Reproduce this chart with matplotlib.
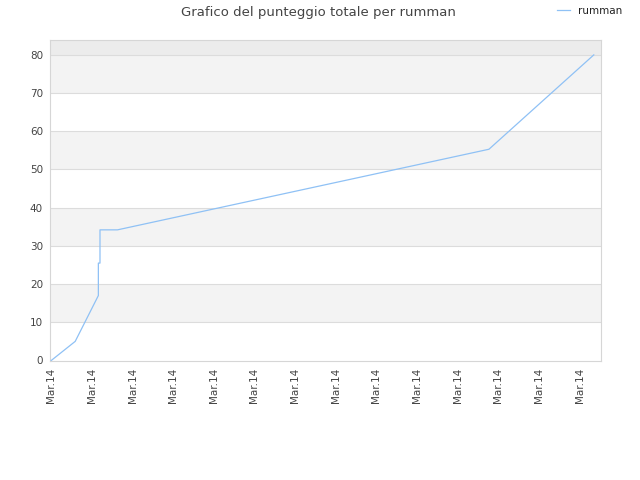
import matplotlib
matplotlib.use('Agg')
import matplotlib.pyplot as plt

# data (x in tick steps, all ticks labelled Mar.14)
x_vals = [0, 0.59, 1.16, 1.16, 1.20, 1.20, 1.63, 10.77, 13.35]
y_vals = [0, 5, 17, 25.5, 25.5, 34.2, 34.2, 55.3, 80]
tick_pos = list(range(14))
tick_labels = ['Mar.14'] * 14
y_ticks = [0, 10, 20, 30, 40, 50, 60, 70, 80]

fig = plt.figure(figsize=(6.4, 4.8), dpi=100)
ax = fig.add_axes([50/640, 1 - 360.5/480, 550.7/640, 320.5/480])

# alternating bands
for lo in [10, 30, 50, 70]:
    ax.axhspan(lo, lo + 10, color='#f3f3f3', zorder=0, lw=0)
ax.axhspan(80, 90, color='#ececec', zorder=0, lw=0)
for yt in y_ticks[1:]:
    ax.axhline(yt, color='#dcdcdc', lw=0.8, zorder=1)

ax.plot(x_vals, y_vals, color='#8fc1f5', lw=0.9, label='rumman', zorder=3)

ax.set_xlim(-0.03, 13.52)
ax.set_ylim(0, 83.9)
ax.set_yticks(y_ticks)
ax.set_xticks(tick_pos)
ax.set_xticklabels(tick_labels, rotation=90)
ax.tick_params(axis='both', length=0, labelsize=7.5, labelcolor='#444444', pad=5)
for s in ax.spines.values():
    s.set_color('#d6d6d6')
    s.set_linewidth(0.8)

fig.suptitle('Grafico del punteggio totale per rumman', x=0.497, y=0.988,
             fontsize=9.5, color='#444444')
fig.legend(loc='upper right', bbox_to_anchor=(0.987, 1.008), frameon=False,
           fontsize=7.5, handlelength=1.2, labelcolor='#222222')

fig.savefig('out.png', dpi=100)
